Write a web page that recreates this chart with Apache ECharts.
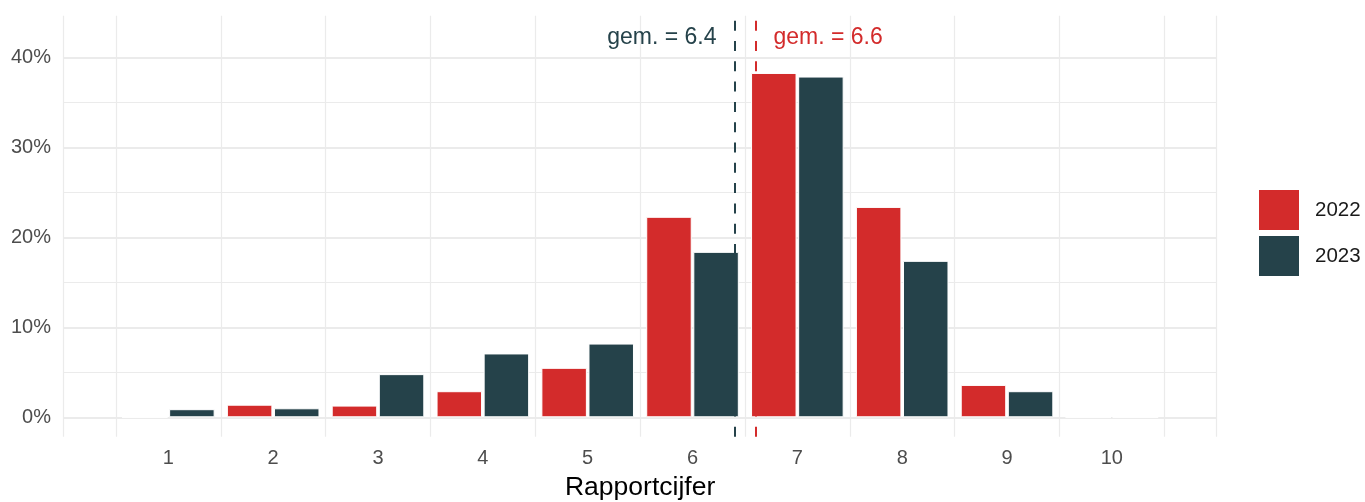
<!DOCTYPE html>
<html><head><meta charset="utf-8">
<script src="https://cdn.jsdelivr.net/npm/echarts@6/dist/echarts.min.js"></script>
<style>html,body{margin:0;padding:0;background:#fff}#c{width:1365px;height:502px}</style>
</head><body><div id="c"></div>
<script>
const categories = ['1','2','3','4','5','6','7','8','9','10'];
const years = ['2022','2023'];
const values2022 = [0, 1.4, 1.3, 2.9, 5.5, 22.3, 38.3, 23.4, 3.6, 0];
const values2023 = [0.9, 1.0, 4.8, 7.1, 8.2, 18.4, 37.9, 17.4, 2.9, 0];
const means = [6.6, 6.4];
const meanLabels = ['gem. = 6.6', 'gem. = 6.4'];
const yMajor = [0, 10, 20, 30, 40];
const yMinor = [5, 15, 25, 35];
const xGridLines = [0, 0.5, 1.5, 2.5, 3.5, 4.5, 5.5, 6.5, 7.5, 8.5, 9.5, 10.5, 11];
const xTitle = 'Rapportcijfer';
const labelLevel = 42.2;

const colors = ['#D32B2B', '#25424A'];
const FONT = '"Liberation Sans", Arial, sans-serif';
const axisCats = [''].concat(categories, ['']);
const pad = arr => [null].concat(arr, [null]);

const chart = echarts.init(document.getElementById('c'), null, {renderer: 'canvas'});
const gridMarks = []
  .concat(yMajor.map(v => ({yAxis: v, lineStyle: {width: 2}})))
  .concat(yMinor.map(v => ({yAxis: v, lineStyle: {width: 1.2}})))
  .concat(xGridLines.map(v => ({xAxis: v, lineStyle: {width: 1.2}})));

const option = {
  animation: false,
  backgroundColor: '#fff',
  textStyle: {fontFamily: FONT},
  grid: {left: 63.5, right: 148.3, top: 15.7, bottom: 65.3, containLabel: false, outerBoundsMode: 'none'},
  legend: {
    data: years, orient: 'vertical', left: 1259, top: 190, padding: 0,
    itemWidth: 40, itemHeight: 40, itemGap: 6, icon: 'rect',
    itemStyle: {borderWidth: 0},
    textStyle: {fontSize: 20.5, color: '#1a1a1a', fontFamily: FONT, padding: [0, 0, 0, 11]}
  },
  xAxis: [
    {
      type: 'category', data: axisCats, boundaryGap: false,
      axisLine: {show: false}, axisTick: {show: false}, splitLine: {show: false},
      axisLabel: {interval: 0, color: '#4D4D4D', fontSize: 20, margin: 12, fontFamily: FONT},
      name: xTitle, nameLocation: 'middle', nameGap: 37,
      nameTextStyle: {fontSize: 26.5, color: '#000', fontFamily: FONT}
    },
    {type: 'value', min: 0, max: 11, show: false}
  ],
  yAxis: {
    type: 'value', min: -2.16, max: 44.67,
    axisLine: {show: false}, axisTick: {show: false}, splitLine: {show: false},
    axisLabel: {customValues: yMajor, formatter: v => v + '%', color: '#4D4D4D', fontSize: 20, margin: 12.5, fontFamily: FONT}
  },
  series: [
    {
      type: 'line', xAxisIndex: 1, data: [], z: 0, silent: true,
      markLine: {z: 0, zlevel: 0, silent: true, symbol: ['none', 'none'], label: {show: false}, animation: false,
        lineStyle: {color: '#EBEBEB', type: 'solid'}, data: gridMarks}
    },
    {
      name: years[0], type: 'bar', data: pad(values2022), barWidth: 45.5, barGap: '3.5%', z: 2,
      itemStyle: {color: colors[0], borderColor: '#fff', borderWidth: 1}
    },
    {
      name: years[1], type: 'bar', data: pad(values2023), barWidth: 45.5, barGap: '3.5%', z: 2,
      itemStyle: {color: colors[1], borderColor: '#fff', borderWidth: 1}
    },
    {
      type: 'line', xAxisIndex: 1, data: [], z: 3, silent: true,
      markLine: {z: 6, silent: true, symbol: ['none', 'none'], label: {show: false}, animation: false,
        lineStyle: {color: colors[0], type: [10, 10.3], width: 2}, data: [{xAxis: means[0]}]}
    },
    {
      type: 'line', xAxisIndex: 1, data: [], z: 3, silent: true,
      markLine: {z: 6, silent: true, symbol: ['none', 'none'], label: {show: false}, animation: false,
        lineStyle: {color: colors[1], type: [10, 10.3], width: 2}, data: [{xAxis: means[1]}]}
    },
    {
      type: 'scatter', xAxisIndex: 1, symbolSize: 0, z: 4, silent: true,
      itemStyle: {opacity: 1},
      data: [[means[0], labelLevel]],
      label: {show: true, position: 'right', distance: 18, formatter: meanLabels[0], color: colors[0], fontSize: 23, fontFamily: FONT}
    },
    {
      type: 'scatter', xAxisIndex: 1, symbolSize: 0, z: 4, silent: true,
      itemStyle: {opacity: 1},
      data: [[means[1], labelLevel]],
      label: {show: true, position: 'left', distance: 18, formatter: meanLabels[1], color: colors[1], fontSize: 23, fontFamily: FONT}
    }
  ]
};
chart.setOption(option);
</script></body></html>
